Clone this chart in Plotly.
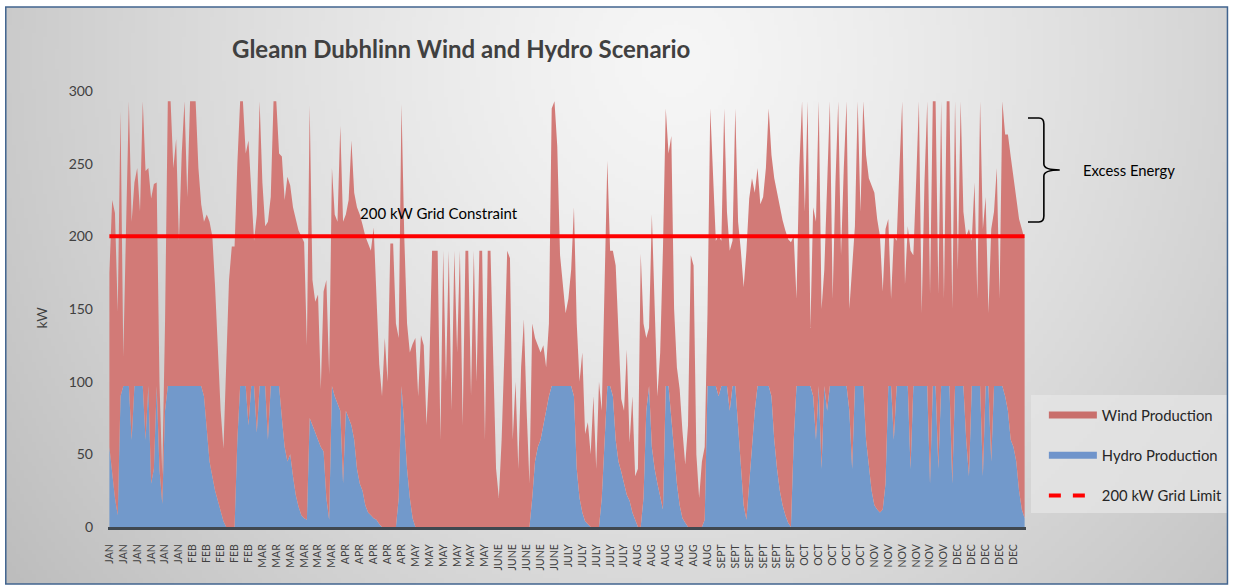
import zlib, struct, base64, math
import plotly.graph_objects as go

# ---------------- data ----------------
months = (["JAN"] * 6 + ["FEB"] * 5 + ["MAR"] * 6 + ["APR"] * 5 + ["MAY"] * 6 +
          ["JUNE"] * 5 + ["JULY"] * 5 + ["AUG"] * 6 + ["SEPT"] * 6 + ["OCT"] * 5 +
          ["NOV"] * 6 + ["DEC"] * 5)

hydro = [
    55, 35, 20, 8, 90,   97, 97, 97, 60, 97,   97, 97, 97, 60, 97,   30, 40, 97, 40, 16,
    80, 97, 97, 97, 97,  97, 97, 97, 97, 97,   97, 97, 97, 97, 90,   65, 45, 35, 25, 18,
    10, 4, 0, 0, 0,      0, 60, 97, 97, 97,    70, 97, 97, 65, 97,   97, 97, 60, 97, 97,
    97, 97, 75, 55, 45,  50, 35, 22, 14, 8,    6, 5, 75, 70, 65,     60, 55, 52, 20, 5,
    97, 90, 85, 80, 30,  80, 75, 70, 60, 40,   30, 25, 15, 10, 8,    6, 5, 2, 0, 0,
    0, 0, 0, 0, 20,      97, 70, 40, 20, 6,    0, 0, 0, 0, 0,        0, 0, 0, 0, 0,
    0, 0, 0, 0, 0,       0, 0, 0, 0, 0,        0, 0, 0, 0, 0,        0, 0, 0, 0, 0,
    0, 0, 0, 0, 0,       0, 0, 0, 0, 0,        0, 0, 20, 45, 55,     60, 70, 80, 90, 97,
    97, 97, 97, 97, 97,  97, 97, 90, 40, 20,   10, 4, 2, 0, 0,       0, 0, 20, 60, 97,
    97, 90, 60, 45, 38,  30, 22, 18, 10, 5,    0, 0, 20, 80, 97,     55, 40, 30, 20, 12,
    97, 97, 75, 50, 30,  15, 6, 3, 0, 0,       0, 0, 0, 0, 5,        97, 97, 97, 97, 90,
    97, 97, 97, 80, 97,  97, 70, 40, 15, 5,    30, 60, 80, 97, 97,   97, 97, 97, 90, 60,
    40, 25, 15, 8, 3,    0, 60, 97, 97, 97,    97, 97, 97, 90, 60,   97, 40, 97, 80, 97,
    97, 97, 97, 97, 97,  97, 80, 40, 97, 97,   97, 97, 60, 40, 25,   15, 12, 10, 12, 30,
    97, 97, 60, 97, 97,  97, 97, 97, 40, 97,   97, 97, 97, 97, 97,   30, 97, 97, 40, 97,
    97, 97, 97, 30, 97,  97, 97, 97, 60, 35,   97, 97, 97, 97, 35,   97, 97, 45, 97, 97,
    97, 97, 90, 80, 60,  55, 45, 25, 12, 6,
]

wind = [
    120, 190, 196, 140, 196,  20, 110, 196, 150, 140,  150, 120, 196, 185, 150,  196, 196, 140, 60, 20,
    60, 196, 196, 150, 170,   100, 160, 196, 130, 196, 196, 196, 150, 125, 120,  150, 165, 165, 140, 100,
    70, 50, 120, 170, 193,    193, 190, 196, 196, 160, 196, 130, 100, 150, 196,  140, 110, 150, 130, 196,
    196, 160, 180, 170, 196,  185, 185, 190, 190, 192, 190, 120, 215, 100, 90,   100, 40, 110, 150, 100,
    150, 125, 125, 196, 180,  135, 150, 196, 170, 180, 185, 183, 185, 185, 182,  200, 150, 110, 90, 130,
    100, 195, 195, 140, 110,  194, 130, 100, 100, 120, 130, 90, 132, 125, 70,    110, 190, 190, 190, 60,
    190, 100, 190, 80, 190,   120, 190, 70, 190, 190,  90, 190, 100, 190, 190,   60, 190, 190, 120, 40,
    20, 60, 120, 190, 185,    60, 100, 40, 110, 143,  80, 30, 120, 85, 70,      60, 55, 30, 50, 191,
    196, 165, 90, 70, 50,     60, 80, 130, 100, 80,   110, 60, 70, 50, 90,      40, 100, 60, 100, 155,
    93, 100, 120, 85, 50,     50, 100, 40, 80, 30,    40, 188, 120, 50, 40,     160, 110, 60, 100, 180,
    191, 160, 194, 100, 80,   80, 60, 40, 70, 187,    180, 50, 20, 45, 50,      50, 191, 140, 100, 110,
    100, 191, 120, 110, 100,  191, 140, 150, 150, 185, 196, 180, 150, 150, 125, 130, 150, 191, 166, 180,
    190, 196, 196, 196, 195,  196, 140, 60, 150, 196,  120, 196, 40, 130, 150,  196, 110, 80, 150, 196,
    60, 140, 196, 90, 150,    196, 70, 140, 110, 196,  120, 196, 196, 200, 210,  215, 200, 190, 150, 175,
    115, 60, 140, 100, 150,   196, 70, 110, 150, 90,   140, 196, 50, 140, 196,   130, 196, 196, 120, 196,
    60, 196, 196, 120, 196,   80, 196, 120, 140, 170,  100, 140, 60, 196, 170,   130, 50, 160, 120, 150,
    60, 196, 180, 190, 195,   185, 180, 187, 193, 192,
]

GRID_LIMIT = 200
LABEL_STEP = 5

n = len(hydro)
x = list(range(n))
tickvals = list(range(0, LABEL_STEP * len(months), LABEL_STEP))

# ---------------- layout helpers ----------------
W, H = 1240, 587
L, R, T, B = 108, 1033, 91, 527


def pxx(xp):
    return (xp - L) / (R - L)


def pxy(yp):
    return (B - yp) / (B - T)


def make_png(w, h, fn):
    raw = bytearray()
    for j in range(h):
        raw.append(0)
        for i in range(w):
            g = fn(i, j)
            raw += bytes((g, g, g))

    def chunk(t, d):
        c = struct.pack('>I', len(d)) + t + d
        return c + struct.pack('>I', zlib.crc32(t + d) & 0xffffffff)

    png = (b'\x89PNG\r\n\x1a\n' +
           chunk(b'IHDR', struct.pack('>IIBBBBB', w, h, 8, 2, 0, 0, 0)) +
           chunk(b'IDAT', zlib.compress(bytes(raw), 9)) + chunk(b'IEND', b''))
    return 'data:image/png;base64,' + base64.b64encode(png).decode()


FX0, FY0, FX1, FY1 = 5, 7, 1236, 584
GW, GH = 308, 144
sx = (FX1 - FX0) / GW
sy = (FY1 - FY0) / GH


def grad(i, j):
    xp = FX0 + (i + 0.5) * sx
    yp = FY0 + (j + 0.5) * sy
    d = math.sqrt(((xp - 680) / 780) ** 2 + ((yp - 60) / 820) ** 2)
    g = 246 - 52 * d ** 1.3
    return int(max(182, min(247, g)))


bg_src = make_png(GW, GH, grad)

WIND_C = "#d27a77"
HYDRO_C = "#7299cb"
FONT = "Lato"

fig = go.Figure()

fig.add_trace(go.Scatter(
    x=x, y=hydro, stackgroup="one", mode="lines", line=dict(width=0, color=HYDRO_C),
    fillcolor=HYDRO_C, name="Hydro Production", showlegend=False, hoverinfo="skip"))
fig.add_trace(go.Scatter(
    x=x, y=wind, stackgroup="one", mode="lines", line=dict(width=0, color=WIND_C),
    fillcolor=WIND_C, name="Wind Production", showlegend=False, hoverinfo="skip"))
fig.add_trace(go.Scatter(
    x=[x[0], x[-1]], y=[GRID_LIMIT, GRID_LIMIT], mode="lines",
    line=dict(color="#ff0000", width=4), showlegend=False, hoverinfo="skip"))

# legend entries
fig.add_trace(go.Scatter(x=[0], y=[None], mode="lines", line=dict(color="#c96f6c", width=7),
                         name="Wind Production", legendgroup="a"))
fig.add_trace(go.Scatter(x=[0], y=[None], mode="lines", line=dict(color="#6f94cb", width=7),
                         name="Hydro Production", legendgroup="b"))
fig.add_trace(go.Scatter(x=[0], y=[None], mode="lines", line=dict(color="#ff0000", width=4, dash="dash"),
                         name="200 kW Grid Limit", legendgroup="c"))

shapes = [
    dict(type="rect", xref="paper", yref="paper", x0=pxx(FX0), x1=pxx(FX1), y0=pxy(FY1), y1=pxy(FY0),
         line=dict(color="#41648f", width=1.5), fillcolor="rgba(0,0,0,0)", layer="above"),
    # legend box
    dict(type="rect", xref="paper", yref="paper", x0=pxx(1038), x1=pxx(1236), y0=pxy(513), y1=pxy(395),
         line=dict(width=0), fillcolor="rgba(230,230,230,0.75)", layer="below"),
    # brace
    dict(type="path", xref="paper", yref="paper", layer="above",
         path=("M {a},{b} L {c},{b} Q {d},{b} {d},{e} L {d},{f} Q {d},{g} {h},{g} "
               "Q {d},{g} {d},{i} L {d},{j} Q {d},{k} {c},{k} L {a},{k}").format(
             a=pxx(1035), b=pxy(118), c=pxx(1046), d=pxx(1051), e=pxy(124),
             f=pxy(164), g=pxy(170), h=pxx(1067), i=pxy(176), j=pxy(216), k=pxy(222)),
         line=dict(color="#000000", width=1.6)),
]

annotations = [
    dict(text="<b>Gleann Dubhlinn Wind and Hydro Scenario</b>", xref="paper", yref="paper",
         x=pxx(231), y=pxy(48), xanchor="left", yanchor="middle", showarrow=False,
         font=dict(family=FONT, size=24, color="#404040")),
    dict(text="200 kW Grid Constraint", xref="paper", yref="paper",
         x=pxx(360), y=pxy(213), xanchor="left", yanchor="middle", showarrow=False,
         font=dict(family=FONT, size=15, color="#000000")),
    dict(text="Excess Energy", xref="paper", yref="paper",
         x=pxx(1088), y=pxy(170), xanchor="left", yanchor="middle", showarrow=False,
         font=dict(family=FONT, size=14.8, color="#000000")),
    dict(text="kW", xref="paper", yref="paper", x=pxx(40), y=pxy(318), textangle=-90,
         xanchor="center", yanchor="middle", showarrow=False,
         font=dict(family=FONT, size=14, color="#404040")),
]

fig.update_layout(
    width=W, height=H,
    margin=dict(l=L, r=W - R, t=T, b=H - B, pad=0),
    paper_bgcolor="#ffffff", plot_bgcolor="rgba(0,0,0,0)",
    images=[dict(source=bg_src, xref="paper", yref="paper", x=pxx(FX0), y=pxy(FY0),
                 sizex=pxx(FX1) - pxx(FX0), sizey=pxy(FY0) - pxy(FY1),
                 xanchor="left", yanchor="top", sizing="stretch", layer="below")],
    shapes=shapes,
    annotations=annotations,
    showlegend=True,
    legend=dict(x=pxx(1051), y=pxy(399), xanchor="left", yanchor="top",
                bgcolor="rgba(0,0,0,0)", borderwidth=0, traceorder="grouped",
                tracegroupgap=18, itemwidth=48,
                font=dict(family=FONT, size=14.8, color="#262626")),
    xaxis=dict(range=[-0.5, n - 0.5], tickmode="array", tickvals=tickvals, ticktext=months,
               tickangle=-90, showgrid=False, zeroline=False, showline=True,
               linecolor="#404850", linewidth=3, ticks="", ticklabelstandoff=10,
               tickfont=dict(family=FONT, size=10.5, color="#404040")),
    yaxis=dict(range=[0, 300], tickvals=[0, 50, 100, 150, 200, 250, 300],
               showgrid=False, zeroline=False, showline=False, ticks="",
               ticklabelstandoff=14,
               tickfont=dict(family=FONT, size=14, color="#404040")),
    font=dict(family=FONT),
)

fig.write_html("out.html", config={"displayModeBar": False},
               post_script="document.body.style.margin='0';document.body.style.overflow='hidden';")
